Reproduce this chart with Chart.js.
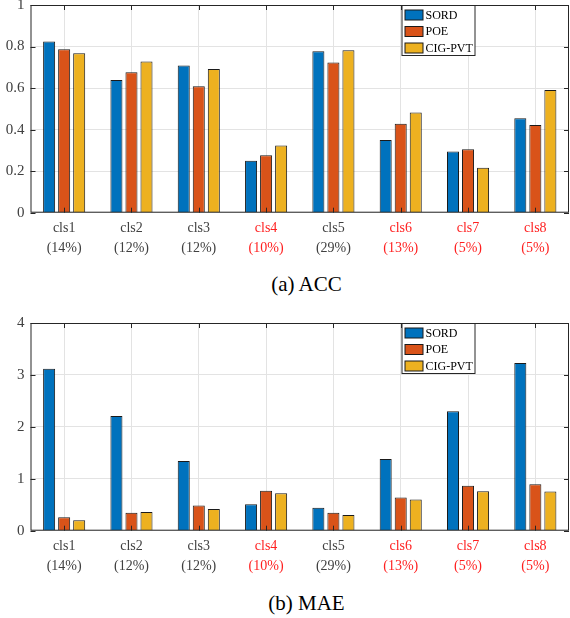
<!DOCTYPE html>
<html>
<head>
<meta charset="utf-8">
<script src="https://cdn.jsdelivr.net/npm/chart.js@4"></script>
<style>
  html, body { margin: 0; padding: 0; background: #fff; }
  #wrap { position: relative; width: 570px; height: 618px; overflow: hidden; }
  canvas { position: absolute; left: 0; }
  .caption { position: absolute; left: 0; width: 613px; text-align: center;
             font-family: "Liberation Serif", serif; font-size: 21px; color: #000; }
</style>
</head>
<body>
<div id="wrap">
  <canvas id="accChart" width="570" height="272" style="top:-10px"></canvas>
  <div class="caption" style="top:272px">(a) ACC</div>
  <canvas id="maeChart" width="570" height="272" style="top:308px"></canvas>
  <div class="caption" style="top:591px">(b) MAE</div>
</div>
<script>
// categories and class shares
const categories = ['cls1', 'cls2', 'cls3', 'cls4', 'cls5', 'cls6', 'cls7', 'cls8'];
const shares = ['(14%)', '(12%)', '(12%)', '(10%)', '(29%)', '(13%)', '(5%)', '(5%)'];
const highlighted = [false, false, false, true, false, true, true, true];

const methods = ['SORD', 'POE', 'CIG-PVT'];

// ACC values
const accSord = [0.824, 0.639, 0.709, 0.250, 0.777, 0.350, 0.295, 0.455];
const accPoe  = [0.787, 0.676, 0.609, 0.276, 0.723, 0.428, 0.305, 0.422];
const accCig  = [0.768, 0.728, 0.692, 0.324, 0.782, 0.483, 0.216, 0.591];

// MAE values
const maeSord = [3.12, 2.21, 1.34, 0.51, 0.44, 1.38, 2.30, 3.23];
const maePoe  = [0.26, 0.345, 0.486, 0.77, 0.345, 0.64, 0.864, 0.896];
const maeCig  = [0.20, 0.36, 0.416, 0.72, 0.30, 0.60, 0.76, 0.755];

const colors = ['#0072BD', '#D95319', '#EDB120'];
const serif = '"Liberation Serif", "DejaVu Serif", serif';

// caja de ejes, marcas hacia dentro y leyenda
const boxPlugin = {
  id: 'box',
  afterDatasetsDraw(chart) {
    const { ctx, chartArea: a, scales: { x, y } } = chart;
    ctx.save();
    ctx.strokeStyle = '#262626';
    ctx.lineWidth = 1;
    ctx.strokeRect(a.left + 0.5, a.top + 0.5, a.right - a.left - 1, a.bottom - a.top - 1);

    ctx.beginPath();
    x.ticks.forEach((t, i) => {
      const px = Math.round(x.getPixelForTick(i)) + 0.5;
      ctx.moveTo(px, a.bottom); ctx.lineTo(px, a.bottom - 5);
      ctx.moveTo(px, a.top); ctx.lineTo(px, a.top + 5);
    });
    y.ticks.forEach((t, i) => {
      const py = Math.round(y.getPixelForTick(i)) + 0.5;
      ctx.moveTo(a.left, py); ctx.lineTo(a.left + 5, py);
      ctx.moveTo(a.right, py); ctx.lineTo(a.right - 5, py);
    });
    ctx.stroke();

    // leyenda
    const lx = a.left + 371.5, ly = a.top + 0.5, lw = 73, lh = 50;
    ctx.fillStyle = '#fff';
    ctx.fillRect(lx, ly, lw, lh);
    ctx.strokeStyle = '#262626';
    ctx.strokeRect(lx, ly, lw, lh);
    ctx.font = '12px ' + serif;
    ctx.textBaseline = 'middle';
    chart.data.datasets.forEach((ds, i) => {
      const cy = ly + 9.5 + i * 16.5;
      ctx.fillStyle = ds.backgroundColor;
      ctx.fillRect(lx + 3, cy - 5, 18, 10);
      ctx.strokeStyle = '#1a1a1a';
      ctx.strokeRect(lx + 3, cy - 5, 18, 10);
      ctx.fillStyle = '#000';
      ctx.fillText(ds.label, lx + 23.5, cy + 0.5);
    });
    ctx.restore();
  }
};

function makeChart(id, series, yMax, yStep, xHeight) {
  const ctx = document.getElementById(id).getContext('2d');
  return new Chart(ctx, {
    type: 'bar',
    data: {
      labels: categories.map((c, i) => [c, shares[i]]),
      datasets: series.map((values, i) => ({
        label: methods[i],
        data: values,
        backgroundColor: colors[i],
        borderColor: '#1a1a1a',
        borderWidth: 1,
        barPercentage: 0.8,
        categoryPercentage: 0.67
      }))
    },
    options: {
      responsive: false,
      animation: false,
      layout: { padding: { top: 0, right: 1, left: 0, bottom: 0 } },
      plugins: { legend: { display: false }, tooltip: { enabled: false } },
      scales: {
        x: {
          offset: true,
          grid: { offset: false, color: '#e3e3e3', drawTicks: false },
          border: { display: false },
          ticks: {
            padding: 6,
            maxRotation: 0,
            autoSkip: false,
            font: { family: serif, size: 14, lineHeight: 1.4 },
            color: c => highlighted[c.index] ? '#ff1f1f' : '#404040'
          },
          afterFit: s => { s.height = xHeight; }
        },
        y: {
          min: 0,
          max: yMax,
          ticks: {
            stepSize: yStep,
            padding: 6,
            font: { family: serif, size: 15 },
            color: '#404040',
            callback: v => String(+v.toFixed(2))
          },
          grid: { color: '#e3e3e3', drawTicks: false },
          border: { display: false },
          afterFit: s => { s.width = 30.5; }
        }
      }
    },
    plugins: [boxPlugin]
  });
}

makeChart('accChart', [accSord, accPoe, accCig], 1, 0.2, 49.3);
makeChart('maeChart', [maeSord, maePoe, maeCig], 4, 1, 49.3);
</script>
</body>
</html>
